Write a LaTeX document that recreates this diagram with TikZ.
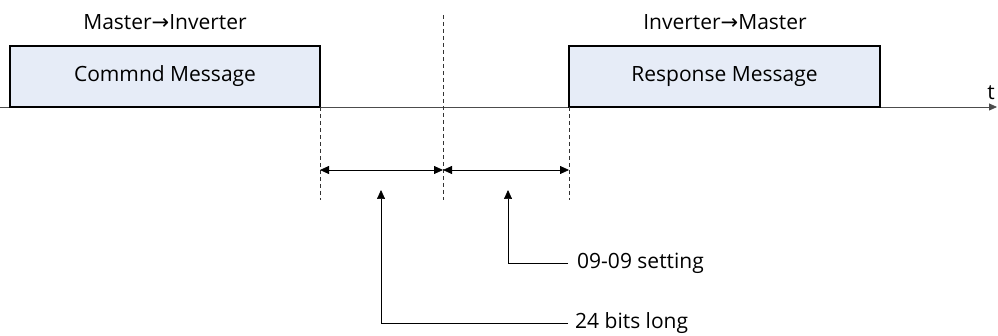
\documentclass[tikz,border=0pt]{standalone}
\usepackage{fontspec}
\setmainfont{Open Sans}
\newfontfamily\symfont{DejaVu Sans}
\usetikzlibrary{arrows.meta}
\definecolor{boxfill}{HTML}{E6ECF7}
\begin{document}
\begin{tikzpicture}[x=1pt,y=-1pt,
  msgbox/.style={draw=black,line width=1.2pt,fill=boxfill,inner sep=0pt,font=\fontsize{21}{24}\selectfont},
  lbl/.style={inner sep=0pt,font=\fontsize{21}{24}\selectfont},
  dline/.style={dashed,dash pattern=on 4pt off 3pt,line width=0.7pt,black!80},
  arr/.style={line width=0.8pt,-{Triangle[length=9pt,width=8pt]}},
  darr/.style={line width=0.8pt,{Triangle[length=9pt,width=8pt]}-{Triangle[length=9pt,width=8pt]}}]
\useasboundingbox (0,0) rectangle (998,336);
% axis
\coordinate (a0) at (0,107);
\coordinate (a1) at (997,107);
\draw[line width=0.8pt,black!70,-{Triangle[length=8pt,width=7pt]}] (a0) -- (a1);
\node[lbl,anchor=base] (t) at (991,100) {t};
% boxes
\node[msgbox,minimum width=310pt,minimum height=61pt] (cmd) at (165,76.5) {Commnd Message};
\node[msgbox,minimum width=311pt,minimum height=61pt] (rsp) at (724.5,76.5) {Response Message};
\node[lbl] (l1) at (165,22) {Master{\symfont →}Inverter};
\node[lbl] (l2) at (725,22) {Inverter{\symfont →}Master};
% dashed lines
\coordinate (d1t) at (320,107); \coordinate (d1b) at (320,200);
\coordinate (d2t) at (443,15);  \coordinate (d2b) at (443,200);
\coordinate (d3t) at (569,107); \coordinate (d3b) at (569,200);
\draw[dline] (d1t) -- (d1b);
\draw[dline] (d2t) -- (d2b);
\draw[dline] (d3t) -- (d3b);
% dimension arrows
\coordinate (m1) at (320,170); \coordinate (m2) at (443,170); \coordinate (m3) at (569,170);
\draw[darr] (m1) -- (m2);
\draw[darr] (m2) -- (m3);
% leaders
\node[lbl,anchor=west,inner xsep=7pt] (bits) at (568,323) {24 bits long};
\node[lbl,anchor=west,inner xsep=9pt] (set) at (568,263) {09-09 setting};
\coordinate (p1) at (381,190);
\coordinate (p2) at (508,190);
\draw[arr,line width=0.7pt] (bits.west) -- (381,323) -- (p1);
\draw[arr,line width=0.7pt] (set.west) -- (508,263) -- (p2);
\end{tikzpicture}
\end{document}
